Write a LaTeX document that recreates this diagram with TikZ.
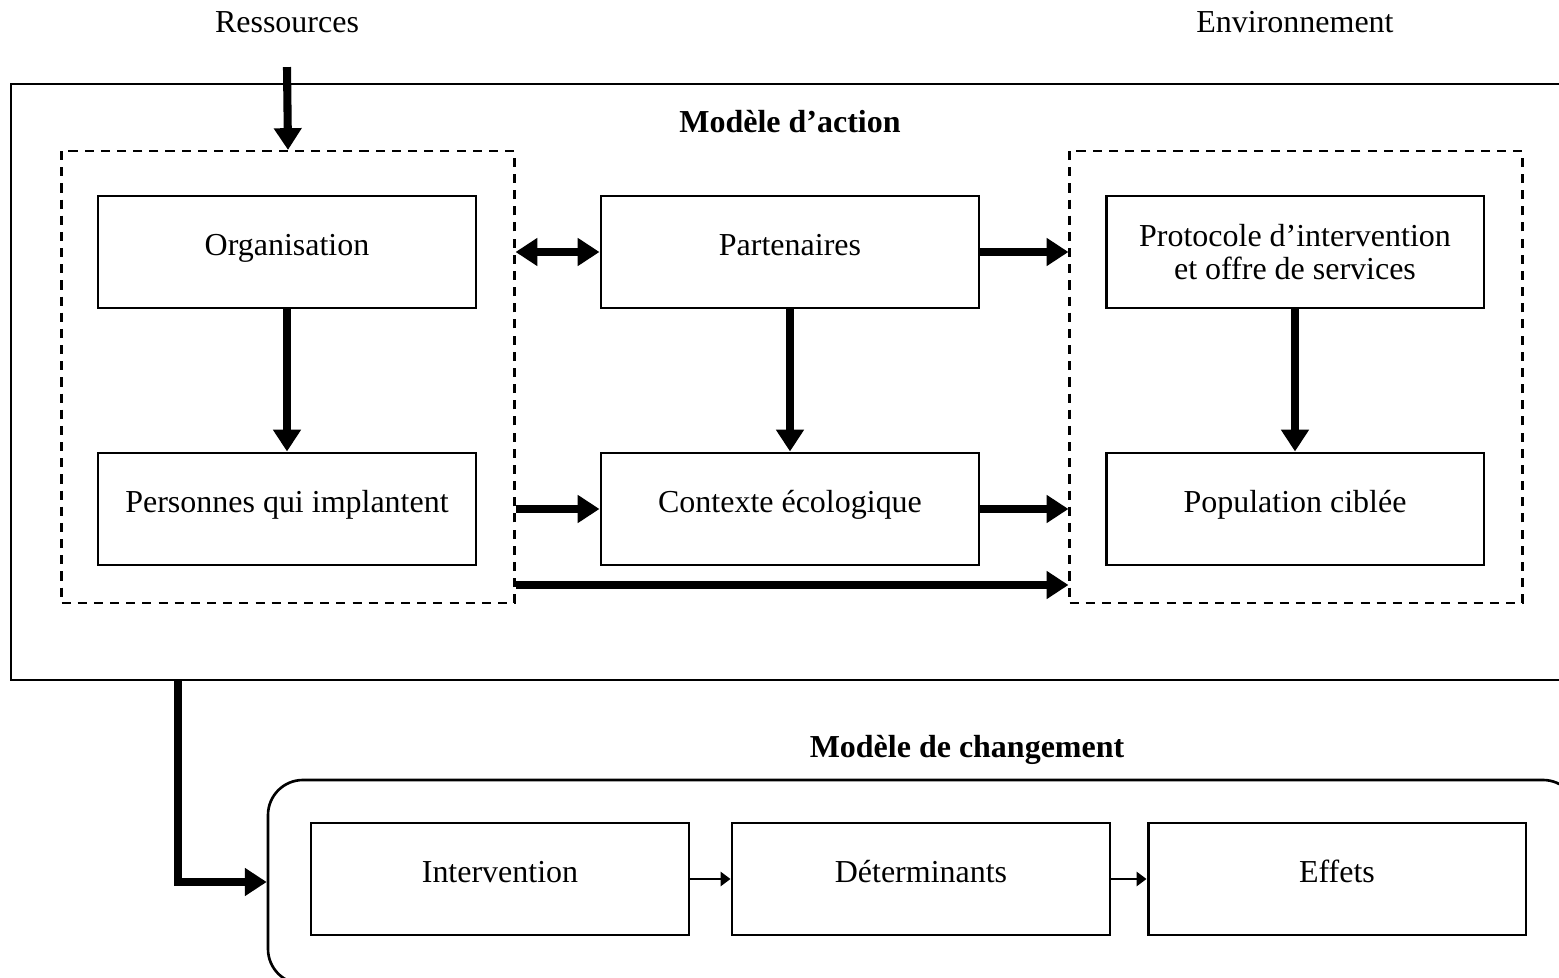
\documentclass[tikz,border=0pt]{standalone}
\usepackage{fontspec}
\setmainfont{Liberation Serif}
\usepackage{tikz}
\usetikzlibrary{arrows.meta, positioning}

\begin{document}
\begin{tikzpicture}[x=0.1mm, y=-0.1mm, font=\fontsize{9.1}{9.6}\selectfont,
    blk/.style={draw, line width=0.85pt, minimum width=3.78cm, minimum height=1.12cm, inner sep=0pt, align=center, text height=6pt, text depth=4pt},
    grp/.style={draw, dashed, dash pattern=on 2.6pt off 2pt, line width=0.6pt, minimum width=4.53cm, minimum height=4.52cm, inner sep=0pt},
    big/.style={-{Triangle[length=6.2pt, width=7.6pt]}, line width=2.3pt},
    thin/.style={-{Triangle[length=2.8pt, width=4pt]}, line width=0.6pt}]
    \useasboundingbox (0,0) rectangle (1559,978);
    % outer frames
    \node[draw, line width=0.75pt, minimum width=15.6cm, minimum height=5.96cm, inner sep=0pt] (action) at (791,382) {};
    \node[draw, line width=0.75pt, rounded corners=0.35cm, minimum width=13.1cm, minimum height=2.04cm, inner sep=0pt] (chg) at (923,882) {};
    \node (res) at (287,22) {Ressources};
    \node (env) at (1295,22) {Environnement};
    \node[font=\fontsize{9.1}{9.6}\selectfont\bfseries] (titact) at (790,122) {Modèle d’action};
    \node[font=\fontsize{9.1}{9.6}\selectfont\bfseries] (titchg) at (967,750) {Modèle de changement};
    % groupes
    \node[grp] (left)  at (288,377) {};
    \node[grp] (right) at (1296,377) {};
    \node[blk] (orga) at (287,252)  {Organisation};
    \node[blk] (pers) at (287,509)  {Personnes qui implantent};
    \node[blk] (part) at (790,252)  {Partenaires};
    \node[blk] (ctx)  at (790,509)  {Contexte écologique};
    \node[blk, text height={}, text depth={}] (prot) at (1295,252) {Protocole d’intervention\\et offre de services};
    \node[blk] (pop)  at (1295,509) {Population ciblée};
    \node[blk] (inter) at (500,879)  {Intervention};
    \node[blk] (det)   at (921,879)  {Déterminants};
    \node[blk] (eff)   at (1337,879) {Effets};
    % flèches
    \draw[big] ([yshift=-2.2mm]res.south) -- (left.north);
    \draw[big] (orga) -- (pers);
    \draw[big] (part) -- (ctx);
    \draw[big] (prot) -- (pop);
    \draw[big, {Triangle[length=6.2pt, width=7.6pt]}-{Triangle[length=6.2pt, width=7.6pt]}] (left.east |- part.west) -- (part.west);
    \draw[big] (part.east) -- (right.west |- part.east);
    \draw[big] (left.east |- ctx.west) -- (ctx.west);
    \draw[big] (ctx.east) -- (right.west |- ctx.east);
    \coordinate (lo) at (left.east |- 0,585);
    \draw[big] (lo) -- (right.west |- lo);
    \coordinate (down) at (178,680);
    \draw[big] (down) |- (chg.west);
    \draw[thin] (inter) -- (det);
    \draw[thin] (det) -- (eff);
  \end{tikzpicture}
\end{document}
